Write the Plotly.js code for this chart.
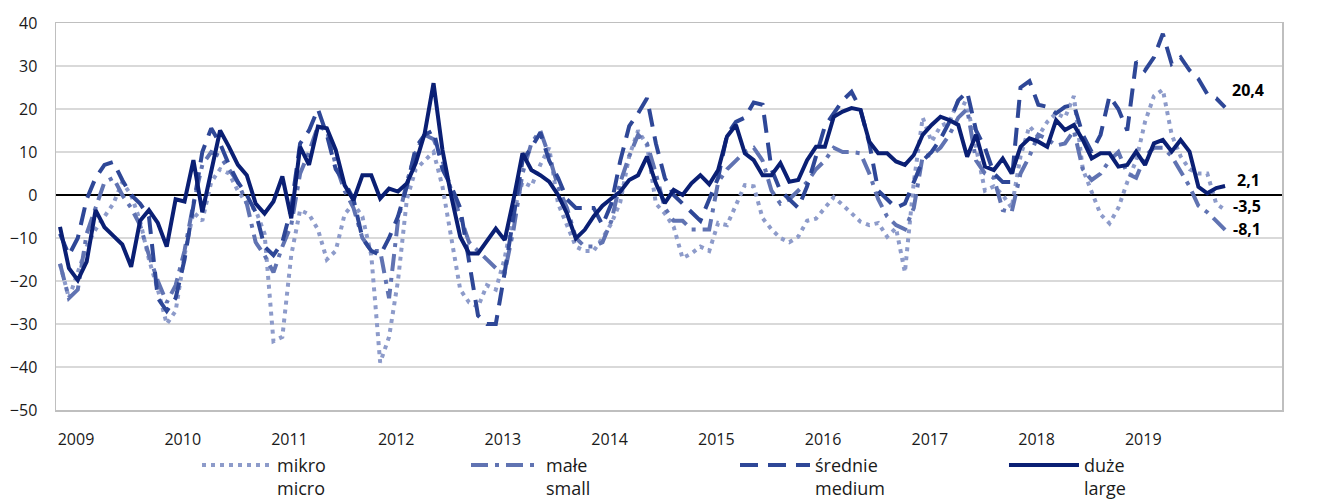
<!DOCTYPE html>
<html>
<head>
<meta charset="utf-8">
<script src="https://cdn.plot.ly/plotly-3.0.1.min.js"></script>
<style>html,body{margin:0;padding:0;background:#fff;}#chart{width:1333px;height:499px;}</style>
</head>
<body>
<div id="chart"></div>
<script>
// Monthly index: 0 = Jan 2009 ... 131 = Dec 2019
const years = ["2009","2010","2011","2012","2013","2014","2015","2016","2017","2018","2019"];

const mikro = [
 -16,-24,-18,-12,-8,-5,-2,3,0,-6,-15,-22,
 -30,-27,-14,-4,-6,3,6,5,1,-2,-3.5,-9,
 -34,-33,-14,-3.5,-4.5,-8,-15,-13,-4.5,-2,-5,-14,
 -39,-33,-20,-1,6,8,10,2,-10,-22,-25,-26,
 -21,-22,-14.7,-4,3,2,7,11,-2,-7,-12,-13,
 -13,-10,-6.6,-1.6,9,15,11.6,-2,-4.3,-7.4,-14.7,-13.6,
 -12,-13,-6.5,-7,-2.5,2.3,2,-5.4,-8,-10,-11,-9.7,
 -6,-5.5,-3,-0.5,-2.3,-4.3,-6.2,-7,-6.5,-9.7,-7.7,-18,
 3,18,12.4,16,17,22,21,11,1,2,0,-3,
 9,16,13.6,17,19,18,23,6,1,-4.5,-6.6,-3,
 3,8,17,23,24.5,14,9,6,5,5,-2,-3.5
];
const male = [
 -16,-24,-22,-9,-3,3,4,0,-3,-7,-14,-20,
 -25,-21,-13,-2,7,10,9,6,3,-2,-11,-14,
 -18,-12,-7,5,10,16,15,7,1,-3,-10,-13,
 -13,-24,-6,3,10,14,13,8,1,-5,-11,-13,
 -15,-17,-18,-8,5,12,15,9,2,-3,-10,-12,
 -12,-11,-6,3,9,14,12,5,-3,-6,-6,-8,
 -8,-8,3,6,8,10,11,8,1,-2,-1,1,
 3,6,8,11,10,10,9.7,5,-1,-5,-7,-8,
 -3,9,9.3,11,14,18,20,8,5,4,-3.5,-4,
 5,9,14,13,11.5,12,15,6,3.5,5,8,10,
 5,4,9,11,11,9,5.5,2,-2.5,-4,-6,-8.1
];
const srednie = [
 -9,-14,-10,-1,4,7,7.7,3.5,0,-2,-5,-24,
 -27,-24,-15,-3,10,15.5,12,7,3,0,-4,-12,
 -14,-11,-3,12,15,20,14,6,3,-1,-10,-13,
 -14,-10,-5,2,11,14,15,6,2,-3,-15,-28,
 -30,-30,-18,-5,8,11,14.5,8,4,-1,-3,-3,
 -3,-7,-2,8,16,19,22.5,12,4,0,-2,-4,
 -6,-1,4,14,17,18,21.5,21,6,1,-1,-3,
 2,9,16,19,22,24,20,12,1,-1,-3,-2,
 3,8,10,13,17,22,24,15,11,5,3,3,
 25,26.5,21,20.5,19,20.5,21,14,10,14,23,20,
 15,31,29,32,37.5,30.5,32,29,27,23.5,22.5,20.4
];
const duze = [
 -7.4,-17,-19.8,-15.5,-3.5,-7.5,-9.5,-11.5,-16.7,-6,-3.5,-6.5,
 -12,-1,-1.5,8.1,-4,6,15,11.2,7,4.6,-2,-4.3,
 -1.5,4.3,-5.4,11.2,7,15.9,15.5,10.5,2.3,-1.2,4.6,4.6,
 -0.8,1.5,0.8,2.7,7.4,14.3,26,10.5,-0.4,-9.7,-13.6,-13.6,
 -10.5,-7.8,-10.5,-1,9.7,5.8,4.6,3.1,0,-4.3,-10.1,-8.1,
 -5,-2.5,-0.8,0.8,3.5,4.6,8.9,2.7,-1.9,1.2,0,2.7,
 4.6,2.5,5.8,13.6,16.3,9.7,8.1,4.6,4.6,7.4,3.1,3.5,
 8.1,11.2,11.2,18.2,19.4,20.2,19.8,12.4,9.7,9.7,7.8,7,
 9.3,14,16.3,18.2,17.4,16.3,8.9,14,6.6,5.8,8.5,5,
 11.2,13.2,12.4,11.2,17.4,15.1,16.3,12.8,8.5,9.7,9.7,6.6,
 7,10.1,7,12,12.8,10.1,12.8,10.1,1.9,0.4,1.6,2.1
];
const names = ["mikro<br>micro","małe<br>small","średnie<br>medium","duże<br>large"];

const FONT = "Open Sans, Noto Sans, sans-serif";
const idx = duze.map((_, i) => i);
const colors = ["#8D9BCA","#6073B2","#2E4797","#0A1F74"];
const dashes = ["4px,5px","17px,7px,4px,7px","18px,10px","solid"];
const series = [mikro, male, srednie, duze];

const traces = series.map((s, k) => ({
  x: idx, y: s, type: "scatter", mode: "lines", name: names[k],
  line: {color: colors[k], width: 4, dash: dashes[k]},
  hoverinfo: "skip"
}));

const fmt = v => String(v).replace(".", ",");
const last = idx.length - 1;
const labelShift = [[6, 4], [6, 1], [5, 17], [10, 6]];
const annotations = series.map((s, k) => ({
  x: last, y: s[last], xref: "x", yref: "y", text: "<b>" + fmt(s[last]) + "</b>",
  showarrow: false, xanchor: "left", yanchor: "middle",
  xshift: labelShift[k][0], yshift: labelShift[k][1],
  font: {family: FONT, size: 16, color: "#000"}
}));

const layout = {
  width: 1333, height: 499,
  margin: {l: 56, r: 51, t: 23, b: 89, autoexpand: false},
  paper_bgcolor: "#fff", plot_bgcolor: "#fff",
  font: {family: FONT, size: 16, color: "#1a1a1a"},
  showlegend: true,
  xaxis: {
    range: [-0.45, 137.4], showgrid: false, zeroline: false,
    tickmode: "array", tickvals: years.map((y, k) => 12 * k + 1.8), ticktext: years,
    ticks: "", showline: true, mirror: true, linecolor: "#BFBFBF", linewidth: 1.5,
    ticklabelstandoff: 14, tickfont: {family: FONT, size: 16, color: "#1a1a1a"}
  },
  yaxis: {
    range: [-50, 40], dtick: 10, tick0: 0, showgrid: true, gridcolor: "#D9D9D9", gridwidth: 1.5,
    zeroline: true, zerolinecolor: "#000", zerolinewidth: 2,
    showline: true, mirror: true, linecolor: "#BFBFBF", linewidth: 1.5,
    ticks: "", ticklabelstandoff: 14, tickfont: {family: FONT, size: 16, color: "#1a1a1a"}
  },
  yaxis2: {
    range: [-50, 40], dtick: 10, tick0: 0, overlaying: "y", side: "right",
    showgrid: false, zeroline: false, showline: false, ticks: "", ticklabelstandoff: 14,
    tickfont: {family: FONT, size: 16, color: "#1a1a1a"}
  },
  legend: {
    orientation: "h", x: 0.115, xanchor: "left", y: -0.095, yanchor: "top",
    valign: "top", entrywidth: 184, entrywidthmode: "pixels", itemwidth: 70,
    font: {family: FONT, size: 18, color: "#1a1a1a"}, bgcolor: "rgba(0,0,0,0)",
    traceorder: "normal"
  },
  annotations: annotations
};

Plotly.newPlot("chart", traces, layout, {displayModeBar: false, staticPlot: true});
</script>
</body>
</html>
